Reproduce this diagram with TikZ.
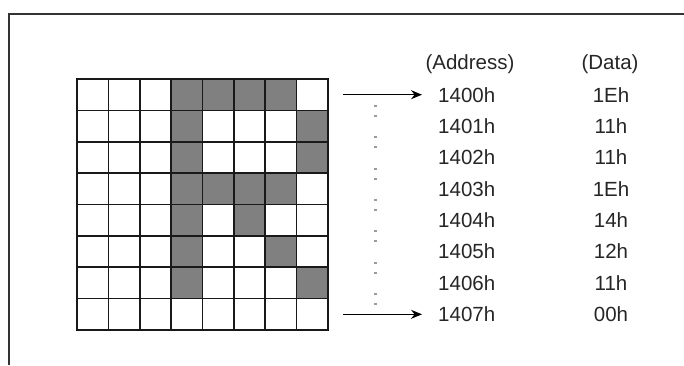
\documentclass[tikz,border=0pt]{standalone}
\usepackage{fontspec}
\setmainfont{Liberation Sans}
\usetikzlibrary{arrows.meta}
\definecolor{pix}{HTML}{808080}
\definecolor{dotc}{HTML}{9A9A9A}
\begin{document}
\begin{tikzpicture}[x=1pt,y=-1pt,
  cell/.style={draw=black, line width=1.7pt, minimum size=31.375pt, inner sep=0pt, fill=white},
  on/.style={fill=pix},
  gridline/.style={line width=1.7pt, draw=black!90},
  lbl/.style={font=\fontsize{20.5}{24}\selectfont, text=black!85, inner sep=0pt},
  addr/.style={lbl, anchor=west},
  dat/.style={lbl, anchor=center},
  arr/.style={-{Stealth[length=11pt,width=9pt]}, line width=1.4pt},
  frameline/.style={line width=2pt, draw=black!80},
  colondot/.style={fill=dotc, draw=none, minimum width=3pt, minimum height=2pt, inner sep=0pt}
]
\useasboundingbox (0,0) rectangle (684,365);
% frame (top and left)
\coordinate (fa) at (8.5,365);
\coordinate (fb) at (8.5,14);
\coordinate (fc) at (684,14);
\draw[frameline] (fa) -- (fb) -- (fc);
% grid
\def\cs{31.375}
\foreach \r in {0,...,7}{
  \foreach \c in {0,...,7}{
    \node[cell] (c-\r-\c) at ({77+\cs*(\c+0.5)},{79+\cs*(\r+0.5)}) {};
  }
}
% filled pixels
\foreach \r/\c in {0/3,0/4,0/5,0/6,1/3,1/7,2/3,2/7,3/3,3/4,3/5,3/6,4/3,4/5,5/3,5/6,6/3,6/7}{
  \node[cell,on] at (c-\r-\c) {};
}
% grid lines on top for even borders
\foreach \i in {0,...,8}{
  \draw[gridline] ({77+\cs*\i},79) -- ({77+\cs*\i},{79+\cs*8});
  \draw[gridline] (77,{79+\cs*\i}) -- ({77+\cs*8},{79+\cs*\i});
}
% headers
\node[lbl] (hA) at (470,64) {(Address)};
\node[lbl] (hD) at (610,64) {(Data)};
% rows
\foreach \r/\a/\d in {0/1400h/1Eh,1/1401h/11h,2/1402h/11h,3/1403h/1Eh,4/1404h/14h,5/1405h/12h,6/1406h/11h,7/1407h/00h}{
  \node[addr] (a\r) at (438,{79+\cs*(\r+0.5)}) {\a};
  \node[dat] (d\r) at (611,{79+\cs*(\r+0.5)}) {\d};
}
% arrows
\draw[arr, shorten <=14pt, shorten >=16pt] (c-0-7.east) -- (a0.west);
\draw[arr, shorten <=14pt, shorten >=16pt] (c-7-7.east) -- (a7.west);
% colons between rows
\foreach \r in {0,...,6}{
  \node[colondot] (u\r) at (375,{79+\cs*(\r+1)-4.5}) {};
  \node[colondot] (v\r) at (375,{79+\cs*(\r+1)+5.5}) {};
}
\end{tikzpicture}
\end{document}
